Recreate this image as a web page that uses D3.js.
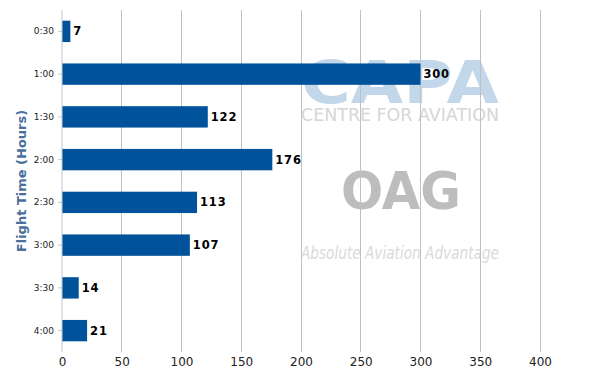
<!DOCTYPE html>
<html>
<head>
<meta charset="utf-8">
<script src="https://d3js.org/d3.v7.min.js"></script>
<style>
  body { margin: 0; background: #fff; }
  svg text { font-family: "DejaVu Sans", sans-serif; }
</style>
</head>
<body>
<div id="chart"></div>
<script>
var categories = ['0:30', '1:00', '1:30', '2:00', '2:30', '3:00', '3:30', '4:00'];
var flights = [7, 300, 122, 176, 113, 107, 14, 21];
var xTicks = [0, 50, 100, 150, 200, 250, 300, 350, 400];

var width = 600, height = 370;
var plotLeft = 62, plotRight = 540, plotTop = 10, plotBottom = 352;

var svg = d3.select('#chart').append('svg')
    .attr('width', width)
    .attr('height', height);

var x = d3.scaleLinear().domain([0, 400]).range([plotLeft, plotRight]);
var y = d3.scaleBand().domain(categories).range([plotTop, plotBottom]).paddingInner(0.5).paddingOuter(0.25);

// watermark logos
var wm = svg.append('g').style('font-family', 'Liberation Sans, Arial, sans-serif');
wm.append('text').attr('x', 301).attr('y', 103)
    .attr('textLength', 198).attr('lengthAdjust', 'spacingAndGlyphs')
    .style('font-size', '58px').style('font-weight', 'bold').style('fill', '#c3d7ea')
    .text('CAPA');
wm.append('text').attr('x', 301).attr('y', 121)
    .attr('textLength', 198).attr('lengthAdjust', 'spacingAndGlyphs')
    .style('font-size', '17px').style('fill', '#d6d6d6')
    .text('CENTRE FOR AVIATION');
wm.append('text').attr('x', 341).attr('y', 209)
    .attr('textLength', 120).attr('lengthAdjust', 'spacingAndGlyphs')
    .style('font-size', '52px').style('font-weight', 'bold').style('fill', '#bdbdbd')
    .text('OAG');
wm.append('text').attr('x', 301).attr('y', 259)
    .attr('textLength', 198).attr('lengthAdjust', 'spacingAndGlyphs')
    .style('font-size', '18px').style('font-style', 'italic').style('fill', '#dadada')
    .text('Absolute Aviation Advantage');

// grid
svg.append('g').selectAll('line').data(xTicks.slice(1)).enter().append('line')
    .attr('x1', d => x(d)).attr('x2', d => x(d))
    .attr('y1', plotTop).attr('y2', plotBottom)
    .attr('stroke', '#c0c0c0').attr('stroke-width', 1)
    .attr('shape-rendering', 'crispEdges');

// bars
svg.append('g').selectAll('rect').data(flights).enter().append('rect')
    .attr('x', x(0))
    .attr('y', (d, i) => y(categories[i]))
    .attr('width', d => x(d) - x(0))
    .attr('height', y.bandwidth())
    .attr('fill', '#00529b');

svg.append('g').selectAll('text').data(flights).enter().append('text')
    .attr('x', d => x(d) + 3)
    .attr('y', (d, i) => y(categories[i]) + y.bandwidth() / 2 + 4)
    .style('font-size', '11.5px').style('font-weight', 'bold').style('fill', '#000')
    .style('letter-spacing', '0.8px')
    .text(d => d);

// y axis
var yAxis = svg.append('g').attr('transform', 'translate(' + plotLeft + ',0)')
    .call(d3.axisLeft(y).tickSize(4).tickPadding(4));
yAxis.select('.domain').attr('stroke', '#c0c8d4').attr('d', 'M0,' + plotTop + 'V' + plotBottom);
yAxis.selectAll('.tick line').attr('stroke', '#c0c8d4');
yAxis.selectAll('.tick text').style('font-size', '9px').style('fill', '#222');

// x axis
var xAxis = svg.append('g').attr('transform', 'translate(0,' + plotBottom + ')')
    .call(d3.axisBottom(x).tickValues(xTicks).tickSize(0).tickPadding(5));
xAxis.select('.domain').remove();
xAxis.selectAll('.tick text').style('font-size', '12px').style('fill', '#222');

svg.append('text')
    .attr('transform', 'translate(26,' + ((plotTop + plotBottom) / 2) + ') rotate(-90)')
    .attr('text-anchor', 'middle')
    .style('font-size', '13px').style('font-weight', 'bold').style('fill', '#4a6f9c')
    .text('Flight Time (Hours)');
</script>
</body>
</html>
